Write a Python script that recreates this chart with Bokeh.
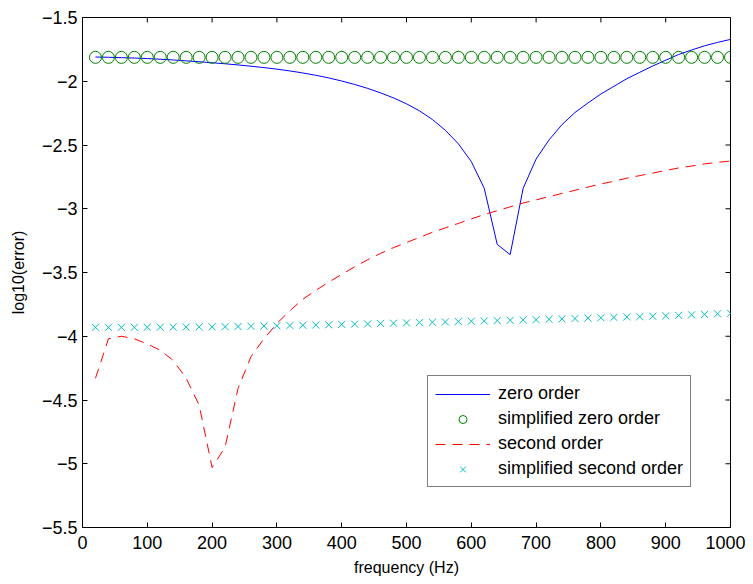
from bokeh.plotting import figure
from bokeh.models import (FixedTicker, CustomJSTickFormatter, Legend, LegendItem, Range1d)
from bokeh.embed import file_html
from bokeh.resources import INLINE

freq = [20, 40, 60, 80, 100, 120, 140, 160, 180, 200,
        220, 240, 260, 280, 300, 320, 340, 360, 380, 400,
        420, 440, 460, 480, 500, 520, 540, 560, 580, 600,
        620, 640, 660, 680, 700, 720, 740, 760, 780, 800,
        820, 840, 860, 880, 900, 920, 940, 960, 980, 1000]

zero_order = [-1.810, -1.812, -1.815, -1.818, -1.822, -1.827, -1.833, -1.840, -1.847, -1.855,
              -1.863, -1.872, -1.882, -1.893, -1.905, -1.919, -1.935, -1.953, -1.974, -1.998,
              -2.025, -2.056, -2.091, -2.131, -2.177, -2.232, -2.300, -2.385, -2.490, -2.630,
              -2.840, -3.280, -3.360, -2.840, -2.610, -2.460, -2.340, -2.245, -2.170, -2.100,
              -2.040, -1.980, -1.930, -1.880, -1.835, -1.790, -1.755, -1.722, -1.695, -1.672]

simplified_zero = [-1.8125] * 50

second_order = [-4.33, -4.02, -4.00, -4.02, -4.06, -4.11, -4.19, -4.33, -4.54, -5.03,
                -4.87, -4.41, -4.16, -4.02, -3.90, -3.80, -3.71, -3.64, -3.575, -3.515,
                -3.455, -3.400, -3.350, -3.305, -3.265, -3.225, -3.185, -3.150, -3.115, -3.080,
                -3.045, -3.015, -2.985, -2.955, -2.930, -2.905, -2.880, -2.855, -2.830, -2.805,
                -2.785, -2.760, -2.740, -2.720, -2.700, -2.680, -2.665, -2.648, -2.636, -2.626]

simplified_second = [-3.930, -3.930, -3.930, -3.930, -3.929, -3.929, -3.928, -3.928, -3.927, -3.926,
                     -3.925, -3.924, -3.922, -3.920, -3.918, -3.916, -3.914, -3.912, -3.910, -3.907,
                     -3.905, -3.903, -3.900, -3.898, -3.895, -3.893, -3.890, -3.888, -3.885, -3.882,
                     -3.880, -3.877, -3.875, -3.872, -3.870, -3.867, -3.864, -3.861, -3.858, -3.855,
                     -3.852, -3.849, -3.846, -3.843, -3.840, -3.836, -3.832, -3.828, -3.824, -3.820]

x_ticks = [0, 100, 200, 300, 400, 500, 600, 700, 800, 900, 1000]
y_ticks = [-5.5, -5, -4.5, -4, -3.5, -3, -2.5, -2, -1.5]

X_MIN, X_MAX = 0, 1000
Y_MIN, Y_MAX = -5.5, -1.5

FONT = "Liberation Sans"
TICK_FS = "18px"
LABEL_FS = "16px"
LEGEND_FS = "18px"

FRAME_W, FRAME_H = 648, 512
BL, BR, BT, BB = 82, 15, 17, 49
TICK_PX = 5

p = figure(width=FRAME_W + BL + BR, height=FRAME_H + BT + BB,
           output_backend="svg", toolbar_location=None,
           x_range=Range1d(X_MIN, X_MAX), y_range=Range1d(Y_MIN, Y_MAX),
           min_border_left=BL, min_border_right=BR, min_border_top=BT, min_border_bottom=BB,
           x_axis_label="frequency (Hz)", y_axis_label="log10(error)")
p.grid.visible = False
p.outline_line_color = "black"
p.outline_line_width = 1
p.background_fill_color = "white"
p.border_fill_color = "white"

fmt = CustomJSTickFormatter(code="return (tick < 0 ? '\\u2212' : '') + Math.abs(tick);")

for ax, ticks in ((p.xaxis[0], x_ticks), (p.yaxis[0], y_ticks)):
    ax.ticker = FixedTicker(ticks=ticks)
    ax.formatter = fmt
    ax.major_tick_in = TICK_PX
    ax.major_tick_out = 0
    ax.minor_tick_line_color = None
    ax.axis_line_color = "black"
    ax.major_tick_line_color = "black"
    ax.major_label_text_font = FONT
    ax.major_label_text_font_size = TICK_FS
    ax.major_label_text_color = "black"
    ax.axis_label_text_font = FONT
    ax.axis_label_text_font_size = LABEL_FS
    ax.axis_label_text_font_style = "normal"
    ax.axis_label_text_color = "black"
p.xaxis[0].major_label_standoff = 8
p.xaxis[0].axis_label_standoff = 7
p.yaxis[0].major_label_standoff = 5
p.yaxis[0].axis_label_standoff = 12

# inward ticks on the top and right edges of the box (MATLAB style)
dy = (Y_MAX - Y_MIN) / FRAME_H * TICK_PX
dx = (X_MAX - X_MIN) / FRAME_W * TICK_PX
p.segment(x0=x_ticks, y0=[Y_MAX] * len(x_ticks), x1=x_ticks, y1=[Y_MAX - dy] * len(x_ticks),
          line_color="black", line_width=1)
p.segment(x0=[X_MAX] * len(y_ticks), y0=y_ticks, x1=[X_MAX - dx] * len(y_ticks), y1=y_ticks,
          line_color="black", line_width=1)

r_zero = p.line(freq, zero_order, line_color="#0000FF", line_width=1)
r_szero = p.scatter(freq, simplified_zero, marker="circle", size=12, fill_color=None,
                    line_color="#008000", line_width=1)
r_second = p.line(freq, second_order, line_color="#FF0000", line_width=1, line_dash="10 7")
r_ssecond = p.scatter(freq, simplified_second, marker="x", size=10,
                      line_color="#00BFBF", line_width=1)

legend = Legend(items=[
    LegendItem(label="zero order", renderers=[r_zero]),
    LegendItem(label="simplified zero order", renderers=[r_szero]),
    LegendItem(label="second order", renderers=[r_second]),
    LegendItem(label="simplified second order", renderers=[r_ssecond]),
], location=(345, 40))
legend.border_line_color = "black"
legend.border_line_width = 1
legend.background_fill_color = "white"
legend.background_fill_alpha = 1
legend.label_text_font = FONT
legend.label_text_font_size = LEGEND_FS
legend.label_text_color = "black"
legend.glyph_width = 55
legend.glyph_height = 20
legend.label_height = 20
legend.label_standoff = 8
legend.spacing = 4
legend.padding = 7
legend.margin = 0
p.add_layout(legend, "center")

open("out.html", "w").write(file_html(p, INLINE))
